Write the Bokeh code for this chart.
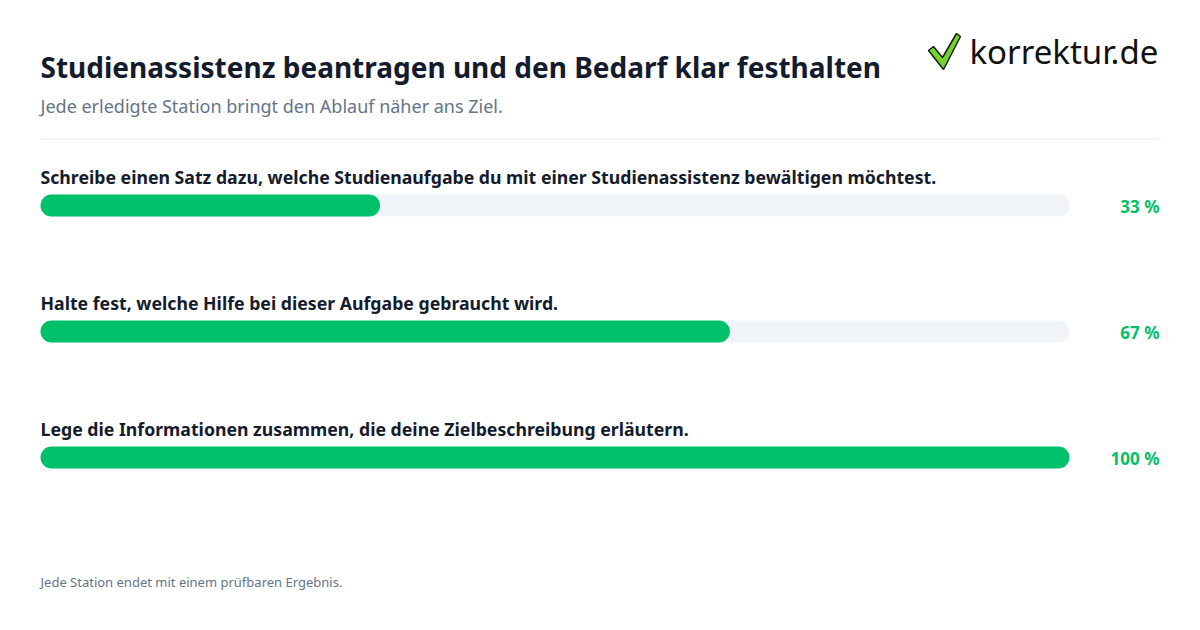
from bokeh.plotting import figure
from bokeh.models import Range1d
from bokeh.core.properties import value
from bokeh.embed import file_html
from bokeh.resources import INLINE

title = "Studienassistenz beantragen und den Bedarf klar festhalten"
subtitle = "Jede erledigte Station bringt den Ablauf näher ans Ziel."
footer = "Jede Station endet mit einem prüfbaren Ergebnis."
steps = [
    "Schreibe einen Satz dazu, welche Studienaufgabe du mit einer Studienassistenz bewältigen möchtest.",
    "Halte fest, welche Hilfe bei dieser Aufgabe gebraucht wird.",
    "Lege die Informationen zusammen, die deine Zielbeschreibung erläutern.",
]
percent = [33, 67, 100]
pct_labels = [f"{v} %" for v in percent]

W, H = 1184, 614
OFF = 0
X0, X1 = 40, 1069            # pixel extent of the 0..100 % track
scale = (X1 - X0) / 100.0

def px(x):
    # screenshot pixel -> percent data unit
    return (x - X0) / scale

p = figure(width=W, height=H, output_backend="svg", toolbar_location=None,
           x_range=Range1d(px(OFF), px(OFF + W)), y_range=Range1d(OFF + H, OFF),
           min_border=0, x_axis_location=None, y_axis_location=None,
           outline_line_color=None, background_fill_color="white",
           border_fill_color="white")
p.grid.visible = False

FONT = value("Noto Sans")
dark = "#141b2d"
grey = "#64748b"
green = "#00c16a"

# title / subtitle
p.text(x=[px(40)], y=[66], text=[title], text_font=FONT, text_font_size="28px",
       text_font_style="bold", text_color=dark, text_baseline="alphabetic")
p.text(x=[px(40)], y=[105], text=[subtitle], text_font=FONT, text_font_size="18px",
       text_color=grey, text_baseline="alphabetic")
p.segment(x0=[px(40)], x1=[px(1160)], y0=[138.5], y1=[138.5], line_color="#e2e8f0", line_width=1)

# logo
p.patch(x=[px(v) for v in [928, 933, 942, 956, 960, 943]],
        y=[50, 46, 57, 33, 36, 69], fill_color="#72d62a", line_color="#1a1a1a", line_width=1.5)
p.text(x=[px(969)], y=[51], text=["korrektur.de"], text_font=FONT, text_font_size="33px",
       text_color="#111111", text_baseline="alphabetic")

row_y = [205 + 126 * i for i in range(len(steps))]
label_y = [176 + 126 * i for i in range(len(steps))]
pct_y = [206 + 126 * i for i in range(len(steps))]

p.hbar(y=row_y, left=0, right=100, height=22, fill_color="#f0f3f8", line_color=None, border_radius=11)
p.hbar(y=row_y, left=0, right=percent, height=22, fill_color=green, line_color=None, border_radius=11)

p.text(x=[px(40)] * len(steps), y=label_y, text=steps, text_font=FONT, text_font_size="17.7px",
       text_font_style="bold", text_color=dark, text_baseline="alphabetic")
p.text(x=[px(1159)] * len(steps), y=pct_y, text=pct_labels, text_font=FONT, text_font_size="17px",
       text_font_style="bold", text_color=green, text_baseline="alphabetic", text_align="right")

p.text(x=[px(40)], y=[581], text=[footer], text_font=FONT, text_font_size="13px",
       text_color=grey, text_baseline="alphabetic")

open("out.html", "w").write(file_html(p, INLINE))
